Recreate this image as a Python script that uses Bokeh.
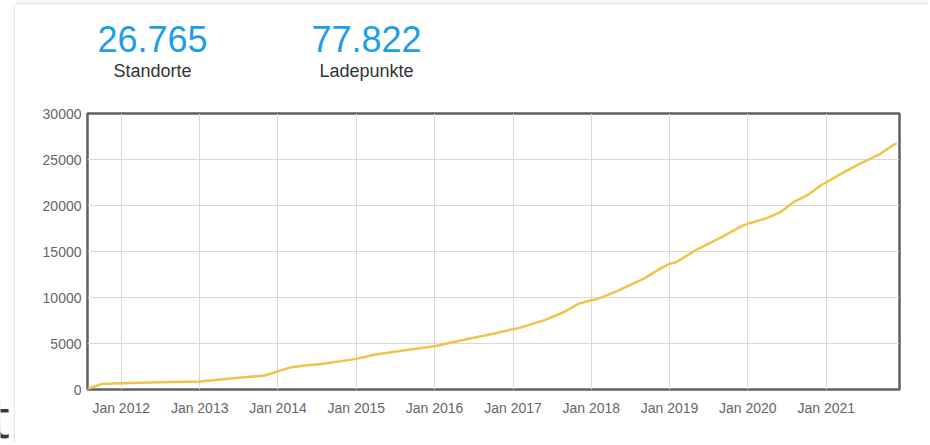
import datetime as dt
from bokeh.plotting import figure
from bokeh.layouts import row, column
from bokeh.models import FixedTicker, DatetimeTickFormatter, Range1d
from bokeh.core.properties import value
from bokeh.embed import file_html
from bokeh.resources import INLINE

# ---- data ----
dates = ["2011-07-20", "2011-10-01", "2012-01-01", "2012-07-01", "2013-01-01",
         "2013-07-01", "2013-11-01", "2014-01-01", "2014-03-01", "2014-04-15",
         "2014-08-01", "2015-01-01", "2015-04-01", "2015-09-01", "2016-01-01",
         "2016-05-01", "2016-10-01", "2017-01-01", "2017-02-01", "2017-06-01",
         "2017-09-01", "2017-11-01", "2018-01-01", "2018-02-01", "2018-05-01",
         "2018-09-01", "2018-12-01", "2019-01-01", "2019-02-01", "2019-05-01",
         "2019-09-01", "2019-12-10", "2020-01-01", "2020-04-01", "2020-06-01",
         "2020-08-01", "2020-10-15", "2020-12-05", "2021-01-01", "2021-03-10",
         "2021-06-05", "2021-09-10", "2021-10-25", "2021-11-25"]
standorte = [0, 600, 690, 780, 870,
             1270, 1520, 1990, 2400, 2550,
             2800, 3330, 3800, 4310, 4710,
             5330, 6050, 6560, 6700, 7570,
             8480, 9310, 9700, 9850, 10690,
             12030, 13300, 13660, 13840, 15110,
             16560, 17830, 18010, 18650, 19270,
             20360, 21270, 22170, 22530, 23440,
             24530, 25620, 26340, 26765]
tick_years = [2012, 2013, 2014, 2015, 2016, 2017, 2018, 2019, 2020, 2021]
y_ticks = [0, 5000, 10000, 15000, 20000, 25000, 30000]
kpi_values = ["26.765", "77.822"]
kpi_labels = ["Standorte", "Ladepunkte"]

# ---- helpers ----
EPOCH = dt.datetime(1970, 1, 1)
def ms(d):
    return (d - EPOCH).total_seconds() * 1000.0

x_dates = [ms(dt.datetime.strptime(d, "%Y-%m-%d")) for d in dates]
tick_ms = [ms(dt.datetime(y, 1, 1)) for y in tick_years]

YEAR_MS = 365.25 * 24 * 3600 * 1000
JAN2012 = ms(dt.datetime(2012, 1, 1))
PX_JAN2012 = 120.7
PX_PER_YEAR = 78.33
FRAME_L, FRAME_R, FRAME_T, FRAME_B = 87, 899, 113, 389

def px_to_x(px):
    return JAN2012 + (px - PX_JAN2012) / PX_PER_YEAR * YEAR_MS

LEFT_W = 15          # strip with the card border
RIGHT_END = 928
HEAD_H = 100
TOTAL_H = 442
CW = RIGHT_END - LEFT_W

def blank(w, h, xr, yr):
    f = figure(width=w, height=h, output_backend="svg", toolbar_location=None,
               x_range=xr, y_range=yr, x_axis_location=None, y_axis_location=None,
               min_border=0, min_border_left=0, min_border_right=0,
               min_border_top=0, min_border_bottom=0, frame_align=False)
    f.outline_line_color = None
    f.grid.visible = False
    f.background_fill_color = "white"
    f.border_fill_color = "white"
    return f

# left strip: stray text + card border
strip = blank(LEFT_W, TOTAL_H, Range1d(0, LEFT_W), Range1d(TOTAL_H, 0))
strip.text(x=[9.5], y=[416], text=["t"], text_align="right", text_baseline="alphabetic",
           text_font=value("Open Sans"), text_font_size="54px", text_color="#3a3a3a")
strip.segment(x0=[14], y0=[4], x1=[14], y1=[TOTAL_H], line_color="#e9e9e9", line_width=2)

# header with KPI numbers
head = blank(CW, HEAD_H, Range1d(LEFT_W, RIGHT_END), Range1d(HEAD_H, 0))
head.segment(x0=[LEFT_W], y0=[3.5], x1=[RIGHT_END], y1=[3.5], line_color="#e6e6e6", line_width=1.5)
head.segment(x0=[LEFT_W], y0=[1.5], x1=[RIGHT_END], y1=[1.5], line_color="#f4f4f4", line_width=3)
kpi_cx = [152, 366]
head.text(x=kpi_cx, y=[38, 38], text=kpi_values, text_align="center",
          text_baseline="alphabetic", text_font=value("Liberation Sans"),
          text_font_size="36px", text_color="#1E9EE9")
head.text(x=kpi_cx, y=[70.5, 70.5], text=kpi_labels, text_align="center",
          text_baseline="alphabetic", text_font=value("Liberation Sans"),
          text_font_size="18px", text_color="#333333")

# main chart
MH = TOTAL_H - HEAD_H
p = figure(width=CW, height=MH, output_backend="svg", toolbar_location=None,
           x_axis_type="datetime",
           x_range=Range1d(px_to_x(FRAME_L), px_to_x(FRAME_R)),
           y_range=Range1d(0, 30000), frame_align=False,
           min_border_left=FRAME_L - LEFT_W, min_border_right=RIGHT_END - FRAME_R,
           min_border_top=FRAME_T - HEAD_H, min_border_bottom=TOTAL_H - FRAME_B)
p.background_fill_color = "white"
p.border_fill_color = "white"
p.outline_line_color = "#606060"
p.outline_line_width = 2.5

p.line(x_dates, standorte, line_color="#F0C34B", line_width=2.5)

for ax in (p.xaxis[0], p.yaxis[0]):
    ax.axis_line_color = None
    ax.major_tick_line_color = None
    ax.minor_tick_line_color = None
    ax.major_tick_out = 0
    ax.major_tick_in = 0
    ax.minor_tick_out = 0
    ax.major_label_text_font = "Liberation Sans"
    ax.major_label_text_font_size = "14px"
    ax.major_label_text_color = "#666666"

p.xaxis.ticker = FixedTicker(ticks=tick_ms)
p.xaxis.formatter = DatetimeTickFormatter(years="%b %Y", months="%b %Y", days="%b %Y")
p.xaxis.major_label_standoff = 10
p.yaxis.ticker = FixedTicker(ticks=y_ticks)
p.yaxis.major_label_standoff = 6

p.xgrid.grid_line_color = "#d9d9d9"
p.ygrid.grid_line_color = "#d9d9d9"

layout = row(strip, column(head, p, spacing=0), spacing=0)
open("out.html", "w").write(file_html(layout, INLINE))
